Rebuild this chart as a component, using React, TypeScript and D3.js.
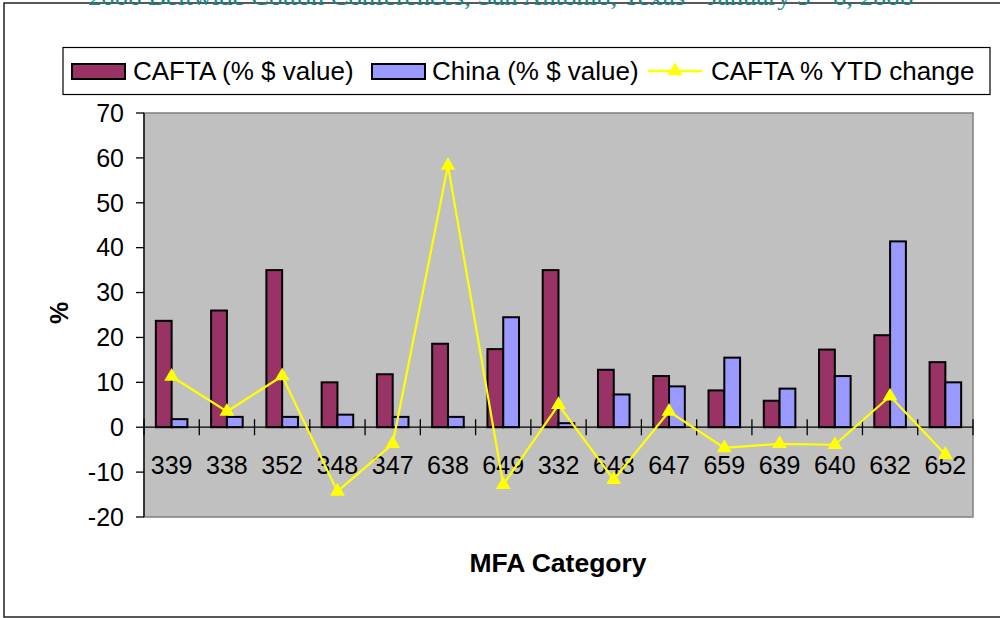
import React from "react";
import * as d3 from "d3";

// MFA categories (x axis)
const categories = ["339", "338", "352", "348", "347", "638", "649", "332", "648", "647", "659", "639", "640", "632", "652"];

// bar series, % of $ value
const caftaValue = [23.7, 26, 35, 10, 11.8, 18.6, 17.4, 35, 12.8, 11.4, 8.2, 5.9, 17.3, 20.5, 14.5];
const chinaValue = [1.8, 2.3, 2.3, 2.8, 2.3, 2.3, 24.5, 0.9, 7.3, 9.1, 15.5, 8.6, 11.4, 41.4, 10];

// line series, CAFTA % YTD change
const caftaYtd = [11.3, 3.5, 11.4, -14.3, -3.7, 58.3, -12.8, 5.0, -11.7, 3.5, -4.6, -3.7, -3.9, 6.9, -6.1];

const yTicks = [-20, -10, 0, 10, 20, 30, 40, 50, 60, 70];

const seriesNames = ["CAFTA (% $ value)", "China (% $ value)", "CAFTA % YTD change"];

export default function App() {
	const width = 1000;
	const height = 618;
	const plotLeft = 144;
	const plotRight = 973;
	const plotTop = 113;
	const plotBottom = 517;

	const cafColor = "#993366";
	const chnColor = "#9999FF";
	const lineColor = "#FFFF00";
	const font = "Arial, 'Liberation Sans', sans-serif";

	const x = d3.scaleBand<string>().domain(categories).range([plotLeft, plotRight]).padding(0);
	const bw = x.bandwidth();
	const barW = bw / 3.5; // excel gap width 150%
	const x1 = d3
		.scaleBand<string>()
		.domain(["cafta", "china"])
		.range([(bw - 2 * barW) / 2, (bw + 2 * barW) / 2]);

	const y = d3.scaleLinear().domain([-20, 70]).range([plotBottom, plotTop]);

	const line = d3
		.line<number>()
		.x((_, i) => (x(categories[i]) || 0) + bw / 2)
		.y((d) => y(d));

	const tri = d3.symbol(d3.symbolTriangle, 95)() || "";

	const legendY = 71;

	return (
		<svg width={width} height={height} style={{ position: "absolute", left: 0, top: 0 }}>
			<rect x={0} y={0} width={width} height={height} fill="#fff" />
			{/* outer frame */}
			<rect x={4} y={3} width={1000} height={614} fill="none" stroke="#222" strokeWidth={1.5} />
			{/* header text, cut by the page top like in the source */}
			<text
				x={88}
				y={5}
				fontFamily="'Liberation Serif', 'Times New Roman', serif"
				fontSize={24}
				fill="#128585"
				textLength={825}
				lengthAdjust="spacingAndGlyphs"
			>
				2006 Beltwide Cotton Conferences, San Antonio, Texas - January 3 - 6, 2006
			</text>

			{/* legend */}
			<rect x={63} y={47.5} width={927} height={47} fill="#fff" stroke="#000" strokeWidth={1.2} />
			<g fontFamily={font} fontSize={26} fill="#000">
				<rect x={72} y={legendY - 7} width={53} height={15} fill={cafColor} stroke="#000" strokeWidth={2} />
				<text x={133} y={legendY} dy="0.35em">{seriesNames[0]}</text>
				<rect x={372} y={legendY - 7} width={53} height={15} fill={chnColor} stroke="#000" strokeWidth={2} />
				<text x={432} y={legendY} dy="0.35em">{seriesNames[1]}</text>
				<line x1={648} x2={702} y1={legendY} y2={legendY} stroke={lineColor} strokeWidth={2.5} />
				<path d={tri} transform={`translate(675,${legendY})`} fill={lineColor} />
				<text x={711} y={legendY} dy="0.35em">{seriesNames[2]}</text>
			</g>

			{/* plot area */}
			<rect
				x={plotLeft}
				y={plotTop}
				width={plotRight - plotLeft}
				height={plotBottom - plotTop}
				fill="#C0C0C0"
				stroke="#808080"
				strokeWidth={1.5}
			/>

			{/* bars */}
			<g stroke="#000" strokeWidth={2}>
				{categories.map((c, i) => (
					<g key={c} transform={`translate(${x(c)},0)`}>
						<rect
							x={x1("cafta")}
							y={y(Math.max(0, caftaValue[i]))}
							width={x1.bandwidth()}
							height={Math.abs(y(caftaValue[i]) - y(0))}
							fill={cafColor}
						/>
						<rect
							x={x1("china")}
							y={y(Math.max(0, chinaValue[i]))}
							width={x1.bandwidth()}
							height={Math.abs(y(chinaValue[i]) - y(0))}
							fill={chnColor}
						/>
					</g>
				))}
			</g>

			{/* y axis */}
			<g>
				<line x1={plotLeft} x2={plotLeft} y1={plotTop} y2={plotBottom} stroke="#000" strokeWidth={1.3} />
				{yTicks.map((t) => (
					<g key={t}>
						<line x1={plotLeft - 8} x2={plotLeft} y1={y(t)} y2={y(t)} stroke="#000" strokeWidth={1.3} />
						<text
							x={124}
							y={y(t)}
							dy="0.35em"
							textAnchor="end"
							fontFamily={font}
							fontSize={25}
							fill="#000"
						>
							{t}
						</text>
					</g>
				))}
			</g>

			{/* category axis at zero */}
			<g>
				<line x1={plotLeft} x2={plotRight} y1={y(0)} y2={y(0)} stroke="#000" strokeWidth={1.3} />
				{categories.map((c) => (
					<line
						key={"t" + c}
						x1={x(c)}
						x2={x(c)}
						y1={y(0) - 8}
						y2={y(0) + 8}
						stroke="#000"
						strokeWidth={1.3}
					/>
				))}
				<line x1={plotRight} x2={plotRight} y1={y(0) - 8} y2={y(0) + 8} stroke="#000" strokeWidth={1.3} />
				{categories.map((c) => (
					<text
						key={"l" + c}
						x={(x(c) || 0) + bw / 2}
						y={465}
						dy="0.35em"
						textAnchor="middle"
						fontFamily={font}
						fontSize={25}
						fill="#000"
					>
						{c}
					</text>
				))}
			</g>

			{/* YTD change line */}
			<path d={line(caftaYtd) || undefined} fill="none" stroke={lineColor} strokeWidth={2.2} />
			<g fill={lineColor}>
				{caftaYtd.map((v, i) => (
					<path key={i} d={tri} transform={`translate(${(x(categories[i]) || 0) + bw / 2},${y(v)})`} />
				))}
			</g>

			{/* axis titles */}
			<text
				transform="translate(59,313) rotate(-90)"
				textAnchor="middle"
				dy="0.35em"
				fontFamily={font}
				fontSize={25}
				fontWeight="bold"
				fill="#000"
			>
				%
			</text>
			<text
				x={558}
				y={563}
				dy="0.35em"
				textAnchor="middle"
				fontFamily={font}
				fontSize={26.5}
				fontWeight="bold"
				fill="#000"
			>
				MFA Category
			</text>
		</svg>
	);
}
